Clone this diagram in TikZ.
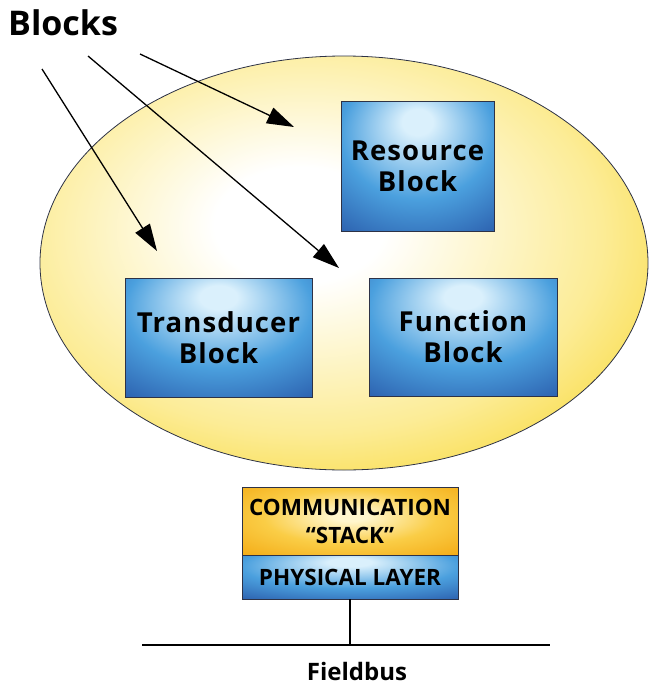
\documentclass[tikz,border=0pt]{standalone}
\usepackage{fontspec}
\setmainfont{Open Sans}
\usetikzlibrary{arrows.meta}
\definecolor{ylw}{RGB}{247,210,25}
\definecolor{ylwmid}{RGB}{252,236,150}
\definecolor{bll}{RGB}{218,240,252}
\definecolor{blm}{RGB}{75,160,222}
\definecolor{bld}{RGB}{38,84,165}
\definecolor{orl}{RGB}{255,246,205}
\definecolor{orm}{RGB}{250,205,70}
\definecolor{ord}{RGB}{244,174,26}
\definecolor{edge}{RGB}{45,50,70}
\pgfdeclareradialshading{ellshade}{\pgfpoint{-4bp}{5bp}}{color(0bp)=(white); color(7bp)=(white); color(24bp)=(ylwmid); color(38bp)=(ylw); color(80bp)=(ylw)}
\pgfdeclareradialshading{boxshade}{\pgfpoint{0bp}{18bp}}{color(0bp)=(bll); color(5bp)=(bll); color(25bp)=(blm); color(46bp)=(bld); color(80bp)=(bld)}
\pgfdeclareradialshading{orshade}{\pgfpoint{0bp}{4bp}}{color(0bp)=(orl); color(4bp)=(orl); color(20bp)=(orm); color(36bp)=(ord); color(80bp)=(ord)}
\tikzset{
  blk/.style={draw=edge, line width=0.9pt, shading=boxshade, inner sep=0pt, align=center,
    font=\fontsize{27.5}{31}\selectfont\bfseries\addfontfeatures{LetterSpace=4}},
  stk/.style={draw=edge, line width=0.9pt, inner sep=0pt, align=center, minimum width=216pt,
    font=\fontsize{22.5}{28}\selectfont\bfseries},
  arr/.style={line width=1.3pt, -{Triangle[length=27pt,width=17pt]}},
  wire/.style={line width=1.1pt}
}
\begin{document}
\begin{tikzpicture}[x=1pt,y=-1pt]
\useasboundingbox (0,0) rectangle (649,686);
\path[shading=ellshade, draw=edge, line width=0.8pt] (344,263) ellipse [x radius=304, y radius=207];
\node[blk, minimum width=153pt, minimum height=130pt] (res) at (417.5,166) {Resource\\Block};
\node[blk, minimum width=188pt, minimum height=118pt] (fun) at (463,337) {Function\\Block};
\node[blk, minimum width=187pt, minimum height=119pt] (tra) at (218.5,337.5) {Transducer\\Block};
\node[anchor=base west, font=\fontsize{34}{40}\selectfont\bfseries, inner sep=0pt] (lbl) at (8,35) {Blocks};
\coordinate (s1) at (42,69);
\coordinate (e1) at (157,251);
\coordinate (s2) at (88,56);
\coordinate (e2) at (339,268);
\coordinate (s3) at (140,54);
\coordinate (e3) at (294,127);
\draw[arr] (s1) -- (e1);
\draw[arr] (s2) -- (e2);
\draw[arr] (s3) -- (e3);
\node[stk, shading=orshade, minimum height=68pt] (com) at (350,521) {COMMUNICATION\\“STACK”};
\node[stk, shading=boxshade, minimum height=44pt] (phy) at (350,577) {PHYSICAL LAYER};
\coordinate (bl) at (142,645);
\coordinate (br) at (550,645);
\coordinate (tap) at (350,645);
\draw[wire] (bl) -- (br);
\draw[wire] (phy.south) -- (tap);
\node[anchor=base, font=\fontsize{24}{30}\selectfont\bfseries, inner sep=0pt] (fb) at (357,680) {Fieldbus};
\end{tikzpicture}
\end{document}
